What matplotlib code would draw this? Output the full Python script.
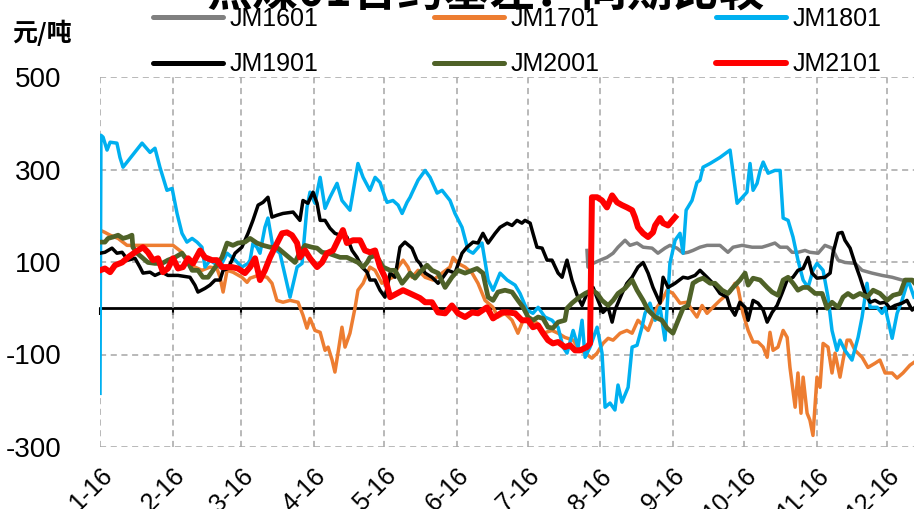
import matplotlib.pyplot as plt
import matplotlib.dates as mdates
import matplotlib.ticker as mticker
import pandas as pd

plt.rcParams['font.family'] = ['Liberation Sans', 'Noto Sans CJK SC', 'DejaVu Sans']
plt.rcParams['axes.unicode_minus'] = False

start = pd.Timestamp("2016-01-01")

# day offsets from 2016-01-01, basis in 元/吨
jm1601_days = [207.3, 207.7, 209.9, 212.9, 215.8, 218.4, 220.5, 223.5, 225.6, 228.6, 231.2, 235.0, 237.5,
               240.5, 242.6, 245.6, 248.2, 250.3, 252.4, 255.4, 258.4, 263.9, 267.3, 269.5, 273.3, 277.6,
               281.8, 284.4, 287.3, 289.5, 292.5, 294.6, 297.1, 300.1, 302.2, 305.7, 308.6, 311.6, 314.2,
               317.1, 321.4, 324.4, 328.6, 332.9, 337.2, 341.4, 346.5]
jm1601_vals = [125, 89, 97, 104, 110, 119, 132, 147, 136, 141, 132, 130, 119,
               130, 136, 130, 119, 121, 125, 132, 136, 136, 121, 132, 136, 132,
               132, 136, 141, 132, 132, 121, 121, 125, 121, 119, 136, 130, 104,
               99, 97, 82, 76, 71, 67, 61, 61]

jm1701_days = [0, 2.1, 4.3, 7.7, 11.5, 14.9, 26.4, 31.1, 34.9, 37.5, 40.4, 43.4, 46.8, 49.8, 51.1, 52.4,
               54.1, 56.6, 60.4, 62.6, 63.9, 67.3, 71.1, 73.2, 75.3, 77.9, 80.9, 84.3, 86.4, 88.1, 89.4,
               91.5, 93.7, 95.8, 97.1, 98.8, 100.0, 101.3, 103.0, 104.3, 106.4, 108.6, 109.8, 112.0,
               114.9, 117.1, 120.0, 122.2, 124.7, 126.9, 129.0, 131.1, 132.8, 135.4, 138.4, 141.8,
               145.6, 149.0, 150.3, 152.4, 155.4, 158.4, 160.9, 163.9, 167.3, 169.4, 172.4, 175.4,
               177.9, 180.1, 183.1, 186.0, 188.6, 192.4, 195.0, 197.9, 201.4, 204.3, 206.5, 209.4,
               211.6, 214.1, 216.3, 218.4, 221.4, 224.3, 226.5, 229.0, 231.2, 233.3, 235.0, 237.1,
               239.2, 241.4, 243.9, 246.9, 249.9, 252.0, 254.1, 256.3, 258.4, 260.9, 263.9, 268.2,
               270.3, 271.6, 273.7, 275.9, 278.0, 280.1, 282.3, 284.0, 285.2, 286.5, 288.6, 290.8,
               292.5, 293.7, 295.9, 297.1, 298.4, 299.3, 301.0, 302.2, 303.5, 305.2, 306.5, 307.8,
               309.9, 311.6, 312.9, 315.0, 316.3, 318.0, 319.3, 321.4, 324.4, 326.9, 329.9, 332.0,
               334.2, 337.2, 339.3, 341.8, 344.8, 346.5]
jm1701_vals = [169, 164, 158, 151, 136, 136, 136, 136, 121, 104, 89, 82, 89, 86, 67, 35,
               82, 78, 67, 56, 65, 71, 67, 54, 17, 13, 17, 13, -15, -43, -22,
               -48, -52, -91, -84, -112, -138, -97, -41, -84, -54, 2, 39, 54,
               89, 82, 54, 61, 67, 89, 104, 89, 67, 82, 67, 61,
               76, 89, 110, 97, 89, 76, 54, 17, 2, -19, -11, -26,
               -54, -26, -26, -32, -54, -48, -54, -63, -69, -91, -97, -108,
               -97, -76, -65, -69, -54, -48, -54, -26, -37, -48, -26, 2,
               17, 39, 32, 11, 13, -4, -19, 6, -11, 2, 17, 35,
               54, 43, -11, -48, -73, -73, -84, -106, -52, -91, -84, -48,
               -63, -128, -214, -140, -227, -149, -227, -242, -275, -149, -171, -76,
               -84, -140, -97, -149, -112, -69, -69, -91, -106, -128, -119, -112,
               -140, -140, -151, -140, -123, -117]

jm1801_days = [0.0, 0.4, 1.3, 3.0, 4.3, 7.2, 8.5, 9.8, 17.9, 21.3, 23.4, 25.5, 28.5, 30.7, 32.8, 34.9,
               37.0, 39.2, 41.3, 43.4, 44.7, 46.8, 51.1, 54.1, 57.5, 60.4, 63.0, 63.9, 65.1, 66.8,
               68.1, 70.2, 71.5, 73.6, 76.6, 80.9, 83.9, 86.0, 88.1, 89.4, 91.5, 93.7, 95.8, 97.9,
               100.9, 103.0, 106.4, 109.8, 112.0, 114.9, 117.1, 119.2, 121.3, 122.2, 124.7, 126.9,
               128.6, 130.7, 132.0, 132.8, 135.4, 138.4, 140.5, 143.5, 145.6, 149.0, 151.1, 154.1,
               156.7, 158.8, 162.6, 165.2, 167.3, 170.3, 173.3, 176.7, 178.8, 181.8, 184.3, 186.5,
               189.4, 192.4, 195.0, 197.1, 198.8, 201.4, 203.5, 205.2, 206.5, 208.6, 211.6, 213.7,
               215.0, 217.1, 219.2, 220.5, 222.2, 224.8, 226.5, 228.6, 230.7, 232.0, 234.1, 236.3,
               238.4, 240.5, 242.6, 244.8, 246.9, 248.2, 249.5, 252.0, 254.1, 255.4, 256.7, 259.7,
               263.9, 268.2, 271.2, 275.4, 276.7, 278.0, 279.7, 281.0, 282.3, 284.4, 287.3, 289.5,
               290.8, 292.9, 295.0, 297.1, 299.3, 301.4, 303.5, 305.2, 307.8, 309.9, 311.6, 313.7,
               315.0, 317.1, 320.1, 322.7, 324.4, 326.5, 327.8, 330.8, 332.9, 334.2, 337.2, 339.3,
               341.4, 344.0, 346.5]
jm1801_vals = [-184, 374, 370, 342, 359, 357, 326, 305, 357, 337, 346, 305, 255, 259, 205, 162,
               143, 151, 143, 132, 89, 104, 89, 119, 104, 89, 97, 104, 140, 132,
               119, 175, 195, 132, 119, 24, 89, 97, 218, 251, 227, 283, 216, 240,
               270, 233, 212, 313, 283, 255, 283, 272, 240, 229, 233, 223,
               205, 229, 240, 249, 277, 298, 283, 249, 255, 233, 205, 175,
               125, 119, 141, 61, 39, 76, 61, 50, 32, -4, -11, 2,
               -19, -26, -41, -84, -97, -48, -84, -26, -106, -84, -41, -97,
               -214, -205, -220, -166, -203, -171, -84, -80, -41, -11, 11, -26,
               2, -69, 97, 147, 162, 119, 212, 233, 272, 277, 305, 313,
               326, 342, 227, 251, 313, 255, 270, 298, 316, 292, 298, 298,
               195, 190, 154, 104, 61, 45, 82, 97, 82, 24, -48, -91,
               -69, -91, -112, -63, -19, 54, 2, 2, -11, 2, -65, -11,
               17, 61, 24]

jm1901_days = [0, 2.1, 5.1, 7.2, 9.4, 11.9, 14.9, 17.0, 18.3, 21.3, 23.4, 26.4, 28.9, 33.2, 38.3, 40.4,
               41.7, 44.7, 46.8, 49.0, 51.1, 52.4, 54.5, 57.5, 60.4, 63.0, 65.1, 67.3, 69.4, 71.5,
               73.2, 75.3, 77.9, 82.2, 85.1, 86.4, 88.5, 90.7, 92.4, 93.7, 95.8, 97.9, 100.0, 102.2,
               105.1, 107.3, 109.4, 111.5, 113.7, 114.9, 117.1, 119.2, 121.3, 123.5, 125.6, 127.7,
               129.8, 132.8, 134.9, 136.2, 138.4, 141.3, 143.9, 146.0, 148.1, 151.1, 154.1, 156.2,
               158.8, 160.9, 163.0, 165.2, 168.2, 170.3, 173.3, 175.4, 177.5, 179.6, 180.9, 183.1,
               184.3, 186.0, 188.2, 190.3, 192.4, 195.0, 196.7, 197.9, 198.8, 200.9, 203.1, 205.2,
               207.3, 209.9, 212.0, 214.1, 216.3, 218.0, 219.2, 222.2, 224.3, 226.5, 229.0, 231.2,
               233.3, 235.4, 238.4, 239.7, 241.8, 244.8, 248.2, 250.3, 253.3, 255.4, 258.4, 260.9,
               263.9, 266.9, 268.2, 270.3, 272.4, 274.6, 275.9, 278.0, 280.1, 282.3, 284.0, 286.1,
               288.2, 290.3, 292.5, 295.0, 297.1, 299.3, 301.4, 303.1, 305.2, 308.6, 310.8, 312.0,
               314.2, 315.9, 317.1, 319.3, 321.4, 323.5, 325.7, 327.8, 329.9, 332.0, 334.2, 336.3,
               338.4, 341.4, 343.5, 345.7, 346.5]
jm1901_vals = [119, 121, 130, 119, 121, 104, 108, 89, 76, 78, 71, 78, 71, 71, 67, 50,
               35, 43, 50, 61, 61, 82, 86, 119, 132, 162, 190, 223, 229, 240,
               197, 201, 205, 208, 190, 233, 227, 251, 227, 190, 190, 173, 162, 158,
               154, 125, 110, 89, 78, 61, 61, 39, 24, 76, 67, 132,
               143, 130, 104, 97, 76, 67, 54, 67, 82, 76, 119, 132,
               143, 141, 162, 141, 162, 175, 184, 179, 190, 184, 190, 184,
               162, 132, 130, 104, 104, 76, 67, 89, 104, 61, 28, 6,
               32, 45, 17, -9, 2, -30, -4, 32, 54, 67, 89, 99,
               76, 45, 11, 67, 45, 54, 67, 65, 71, 82, 67, 54,
               32, 24, 2, -15, 13, 2, -26, 17, 11, -4, -30, -9,
               6, 32, 61, 67, 82, 86, 110, 76, 65, 67, 76, 119,
               162, 164, 147, 130, 97, 67, 32, 13, 17, 11, 13, 0,
               6, 11, 17, -4, 0]

jm2001_days = [0, 2.1, 3.4, 5.5, 7.7, 9.8, 11.9, 13.6, 14.0, 15.8, 17.9, 20.4, 23.4, 26.4, 28.9, 31.9,
               34.9, 37.0, 39.2, 41.7, 43.8, 46.0, 48.1, 50.2, 51.9, 54.1, 56.6, 58.7, 61.7, 63.9,
               66.8, 69.4, 72.4, 75.3, 77.9, 80.9, 83.0, 85.1, 87.3, 90.2, 92.4, 94.5, 97.1, 100.0,
               102.2, 105.1, 107.7, 109.8, 112.0, 113.7, 114.9, 117.1, 118.3, 120.5, 123.5, 125.6,
               128.6, 130.7, 132.0, 134.1, 136.2, 139.2, 141.3, 143.9, 146.9, 149.8, 152.4, 155.4,
               158.4, 160.5, 163.0, 165.2, 167.3, 169.4, 172.4, 175.4, 177.9, 180.1, 182.2, 184.3,
               186.5, 188.6, 190.7, 192.8, 195.0, 197.9, 198.8, 200.9, 203.5, 206.5, 209.4, 211.6,
               213.7, 216.3, 218.4, 220.5, 223.5, 226.5, 228.6, 231.2, 233.3, 236.3, 239.2, 241.4,
               243.9, 246.1, 248.2, 250.3, 252.4, 254.6, 256.7, 259.7, 261.8, 264.8, 267.3, 269.5,
               272.4, 274.6, 275.9, 278.0, 281.0, 284.0, 286.1, 288.6, 290.8, 292.9, 295.0, 297.1,
               299.3, 301.4, 304.4, 307.4, 309.5, 311.6, 314.2, 316.3, 318.4, 320.6, 323.5, 326.5,
               329.1, 332.0, 335.0, 337.6, 340.6, 342.7, 345.7, 346.5]
jm2001_vals = [143, 143, 151, 154, 158, 151, 154, 158, 132, 119, 110, 99, 97, 97, 104, 110,
               119, 104, 82, 82, 67, 67, 82, 97, 110, 141, 136, 141, 143, 151,
               141, 136, 132, 132, 121, 108, 99, 121, 136, 132, 130, 121, 119, 114,
               110, 110, 104, 99, 89, 99, 110, 114, 108, 89, 82, 82,
               54, 67, 76, 65, 78, 93, 82, 76, 45, 67, 82, 76,
               82, 86, 76, 24, 17, 35, 39, 35, 17, 2, -19, -26,
               -19, -22, -41, -43, -30, -26, 0, 11, 22, 32, 39, 32,
               17, 6, 17, 32, 43, 61, 39, 17, -4, -19, -26, -43,
               -54, -26, 0, 6, 54, 61, 65, 54, 54, 39, 32, 45,
               61, 76, 50, 65, 61, 45, 35, 28, 61, 67, 54, 39,
               45, 45, 32, 32, 0, 13, 2, 24, 32, 24, 32, 24,
               39, 32, 17, 28, 32, 61, 61, 56]

jm2101_days = [0, 2.1, 4.3, 6.4, 9.4, 11.9, 14.9, 18.3, 20.4, 22.6, 24.7, 26.8, 28.9, 31.1, 33.2, 35.3,
               37.5, 39.6, 42.6, 44.7, 47.7, 49.8, 51.9, 56.2, 58.7, 61.7, 63.9, 66.0, 68.1, 70.2,
               72.4, 74.5, 77.5, 79.6, 81.7, 83.9, 85.1, 87.3, 89.4, 92.4, 94.5, 96.6, 99.2, 101.3,
               103.4, 105.1, 107.7, 110.7, 112.8, 114.9, 117.1, 119.2, 121.3, 123.5, 126.4, 129.0,
               132.0, 136.2, 138.4, 141.3, 143.9, 146.9, 149.8, 152.4, 155.4, 158.4, 160.9, 164.7,
               167.3, 171.1, 173.7, 176.7, 179.6, 182.2, 184.3, 186.5, 188.6, 190.7, 192.8, 195.0,
               197.9, 200.1, 202.2, 204.3, 207.3, 208.6, 209.4, 211.6, 213.7, 215.8, 218.0, 220.1,
               222.2, 224.3, 226.5, 227.7, 229.0, 231.2, 233.3, 235.4, 236.3, 238.4, 239.7, 241.8,
               244.8]
jm2101_vals = [82, 86, 78, 93, 99, 110, 121, 132, 121, 104, 108, 78, 86, 108, 86, 89,
               108, 97, 125, 110, 104, 104, 89, 89, 86, 76, 89, 108, 61, 82,
               110, 132, 162, 164, 158, 141, 110, 125, 108, 89, 99, 119, 125, 147,
               169, 141, 147, 147, 125, 121, 125, 89, 67, 24, 32, 39,
               32, 22, 13, 13, -9, -11, 6, -11, -19, -9, -11, 2,
               -22, -9, -9, -11, -26, -26, -41, -37, -54, -69, -76, -73,
               -84, -80, -91, -91, -84, -76, 240, 240, 233, 218, 244, 229,
               223, 218, 212, 197, 175, 162, 154, 164, 179, 195, 184, 179,
               197]

series = [
    ("JM1601", jm1601_days, jm1601_vals, "#808080", 2.5),
    ("JM1701", jm1701_days, jm1701_vals, "#ED7D31", 2.5),
    ("JM1801", jm1801_days, jm1801_vals, "#00B0F0", 2.5),
    ("JM1901", jm1901_days, jm1901_vals, "#000000", 2.5),
    ("JM2001", jm2001_days, jm2001_vals, "#4F6228", 3.4),
    ("JM2101", jm2101_days, jm2101_vals, "#FF0000", 4.3),
]

fig = plt.figure(figsize=(9.14, 5.09), dpi=100)
ax = fig.add_axes([100 / 914, 62 / 509, 814 / 914, 370 / 509])

lines = {}
for name, days, vals, color, lw in series:
    x = start + pd.to_timedelta(days, unit="D")
    ln, = ax.plot(x, vals, color=color, lw=lw, label=name, solid_joinstyle="round")
    lines[name] = ln

ax.set_xlim(start, start + pd.Timedelta(days=346.5))
ax.set_ylim(-300, 500)
ax.set_yticks([-300, -100, 100, 300, 500])
ax.xaxis.set_major_locator(mdates.MonthLocator())
ax.xaxis.set_major_formatter(mticker.FuncFormatter(
    lambda v, pos: "{}-{:%y}".format(mdates.num2date(v).month, mdates.num2date(v))))

ax.grid(True, color="#A6A6A6", lw=1.1, ls=(0, (4, 3)))
ax.set_axisbelow(True)
for s in ax.spines.values():
    s.set_visible(False)
ax.tick_params(axis="y", length=0, pad=28, labelsize=20)
ax.tick_params(axis="x", length=0, pad=12, labelsize=18, labelrotation=45)
plt.setp(ax.get_xticklabels(), ha="right", va="top", rotation_mode="anchor")

# zero line with ticks
zero = ax.secondary_xaxis(300 / 800)
zero.xaxis.set_major_locator(mdates.MonthLocator())
zero.tick_params(axis="x", length=5, width=1.5, color="black", labelbottom=False, direction="out")
zero.spines["bottom"].set_linewidth(2)
zero.spines["bottom"].set_color("black")

order = ["JM1601", "JM1901", "JM1701", "JM2001", "JM1801", "JM2101"]
leg = fig.legend([lines[n] for n in order], order, ncol=3, loc="upper left",
                 bbox_to_anchor=(153 / 914, 1 - 7 / 509), frameon=False, fontsize=18,
                 handlelength=2.8, handletextpad=0.25, columnspacing=4.65, labelspacing=0.85,
                 borderpad=0, borderaxespad=0)
for lh in leg.get_lines():
    lh.set_linewidth(max(lh.get_linewidth(), 3.6))
    lh.set_solid_capstyle("round")

fig.text(12 / 914, 1 - 33 / 509, "元/吨", fontsize=18, fontweight="bold", ha="left", va="center",
         family=["Noto Sans CJK SC"])
fig.text(485 / 914, 1 - 6 / 509, "焦煤01合约基差：同期比较", fontsize=33, fontweight="bold",
         ha="center", va="baseline", family=["Noto Sans CJK SC", "DejaVu Sans"])

fig.savefig("out.png", dpi=100)
